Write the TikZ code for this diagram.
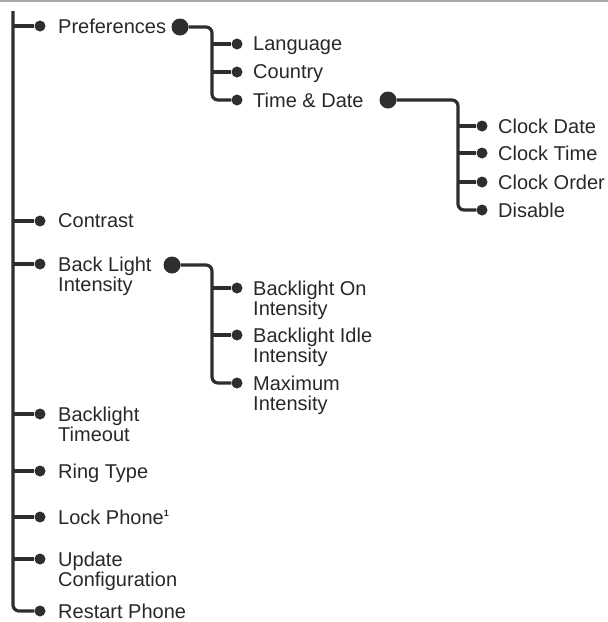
\documentclass[tikz,border=0pt]{standalone}
\usepackage{fontspec}
\setmainfont{Liberation Sans}
\definecolor{ink}{HTML}{2E2E2E}
\definecolor{txt}{HTML}{282828}
\definecolor{rule}{HTML}{A8A8A8}
\tikzset{
  dot/.style={circle, fill=ink, inner sep=0pt, minimum size=11pt},
  bigdot/.style={circle, fill=ink, inner sep=0pt, minimum size=17pt},
  lbl/.style={anchor=north west, text=txt, inner sep=0pt, align=left,
              font=\fontsize{20}{20}\selectfont},
  link/.style={draw=ink, line width=3.2pt, rounded corners=6pt},
  toprule/.style={draw=rule, line width=2pt}
}
\begin{document}
\begin{tikzpicture}[x=1pt,y=-1pt]
\useasboundingbox (0,0) rectangle (608,622);
% top rule
\coordinate (rl) at (0,1);
\coordinate (rr) at (608,1);
\draw[toprule] (rl) -- (rr);

% main spine
\coordinate (top) at (13,11);

% level 1 dots and labels
\node[dot] (d-pref) at (40,26) {};
\node[lbl] (t-pref) at (58,18.5) {Preferences};
\node[dot] (d-con) at (40,221) {};
\node[lbl] (t-con) at (58,213.5) {Contrast};
\node[dot] (d-bl) at (40,264) {};
\node[lbl] (t-bl) at (58,256.5) {Back Light\\Intensity};
\node[dot] (d-blt) at (40,414) {};
\node[lbl] (t-blt) at (58,406.5) {Backlight\\Timeout};
\node[dot] (d-ring) at (40,471) {};
\node[lbl] (t-ring) at (58,463.5) {Ring Type};
\node[dot] (d-lock) at (40,517) {};
\node[lbl] (t-lock) at (58,509.5) {Lock Phone\textsuperscript{\fontsize{9}{9}\selectfont\bfseries 1}};
\node[dot] (d-upd) at (40,559) {};
\node[lbl] (t-upd) at (58,551.5) {Update\\Configuration};
\node[dot] (d-rst) at (40,611) {};
\node[lbl] (t-rst) at (58,603.5) {Restart Phone};

% big dots
\node[bigdot] (b-pref) at (180,27) {};
\node[bigdot] (b-td) at (388,100) {};
\node[bigdot] (b-bl) at (172,265) {};

% level 2: preferences
\node[dot] (d-lang) at (237,44) {};
\node[lbl] (t-lang) at (253,36.5) {Language};
\node[dot] (d-ctry) at (237,72) {};
\node[lbl] (t-ctry) at (253,64.5) {Country};
\node[dot] (d-td) at (237,100) {};
\node[lbl] (t-td) at (253,92.5) {Time \& Date};

% level 3: time & date
\node[dot] (d-cd) at (482,126) {};
\node[lbl] (t-cd) at (498,118.5) {Clock Date};
\node[dot] (d-ct) at (482,153) {};
\node[lbl] (t-ct) at (498,145.5) {Clock Time};
\node[dot] (d-co) at (482,182) {};
\node[lbl] (t-co) at (498,174.5) {Clock Order};
\node[dot] (d-dis) at (482,210) {};
\node[lbl] (t-dis) at (498,202.5) {Disable};

% level 2: back light
\node[dot] (d-bon) at (237,288) {};
\node[lbl] (t-bon) at (253,280.5) {Backlight On\\Intensity};
\node[dot] (d-bid) at (237,335) {};
\node[lbl] (t-bid) at (253,327.5) {Backlight Idle\\Intensity};
\node[dot] (d-max) at (237,383) {};
\node[lbl] (t-max) at (253,375.5) {Maximum\\Intensity};

% bus coordinates
\coordinate (bus1) at (212,60);
\coordinate (bus2) at (458,160);
\coordinate (bus3) at (212,330);

% connectors
\draw[link] (top) |- (d-rst);
\foreach \n in {pref,con,bl,blt,ring,lock,upd}
  \draw[link] (d-\n -| top) -- (d-\n);

\draw[link] (b-pref) -| (bus1) |- (d-td);
\draw[link] (d-lang -| bus1) -- (d-lang);
\draw[link] (d-ctry -| bus1) -- (d-ctry);

\draw[link] (b-td) -| (bus2) |- (d-dis);
\draw[link] (d-cd -| bus2) -- (d-cd);
\draw[link] (d-ct -| bus2) -- (d-ct);
\draw[link] (d-co -| bus2) -- (d-co);

\draw[link] (b-bl) -| (bus3) |- (d-max);
\draw[link] (d-bon -| bus3) -- (d-bon);
\draw[link] (d-bid -| bus3) -- (d-bid);
\end{tikzpicture}
\end{document}
